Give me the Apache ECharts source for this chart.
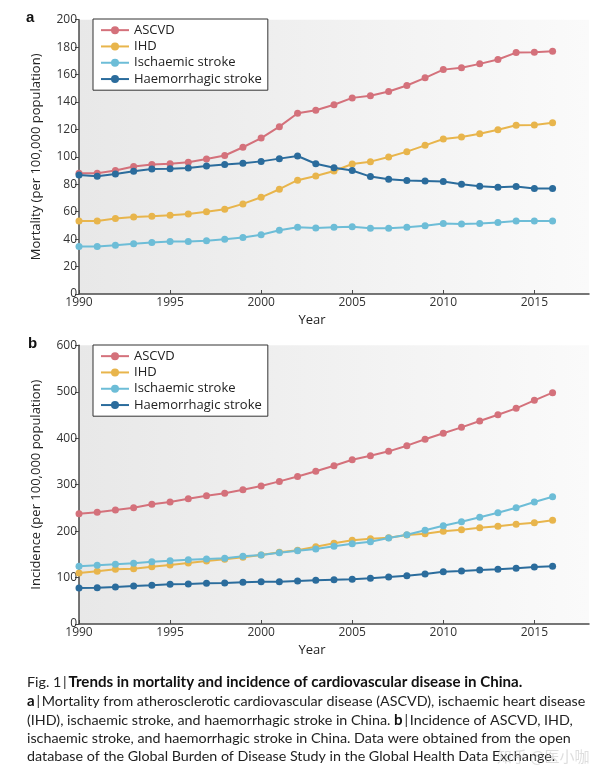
<!DOCTYPE html>
<html>
<head>
<meta charset="utf-8">
<script src="https://cdn.jsdelivr.net/npm/echarts@6/dist/echarts.min.js"></script>
<style>
html,body{margin:0;padding:0;background:#fff;}
#main{width:600px;height:783px;}
</style>
</head>
<body>
<div id="main"></div>
<script>
// ---------- data ----------
const years = [1990,1991,1992,1993,1994,1995,1996,1997,1998,1999,2000,2001,2002,2003,2004,2005,2006,2007,2008,2009,2010,2011,2012,2013,2014,2015,2016];
const seriesNames = ['ASCVD','IHD','Ischaemic stroke','Haemorrhagic stroke'];

// Panel a: mortality (per 100,000 population)
const mortASCVD = [88,88,90,93,94.5,95,96,98.4,101,107,113.7,122,131.8,134,138,143,144.5,147.6,152,157.6,163.6,165,167.8,171,176,176.2,177];
const mortIHD = [53.3,53.3,55,56.2,56.7,57.5,58.4,59.9,61.8,65.7,70.5,76.4,83,86,89.7,94.8,96.5,99.9,103.8,108.4,113,114.4,116.8,119.8,123,123.3,124.8];
const mortIschaemic = [34.7,34.7,35.6,36.6,37.6,38.3,38.3,38.8,40,41.2,43.2,46.5,48.7,48.2,48.7,49,48,48,48.7,49.7,51.4,51,51.4,52.1,53.3,53.3,53.3];
const mortHaemorrhagic = [86.8,85.8,87.5,89.5,91.1,91.4,91.9,93.3,94.5,95.3,96.7,98.7,100.6,95,92.1,90,85.6,83.6,82.7,82.4,82,80,78.5,77.8,78.3,77,77];

// Panel b: incidence (per 100,000 population)
const incASCVD = [237.5,240.4,245.4,250.4,257.6,262.6,269.8,276.3,281.3,289.2,297,307,317.5,328.7,340.8,353.7,362.4,371.7,383.9,397.6,410.5,423.4,437,450.6,464.3,481.5,498];
const incIHD = [109.8,113.4,117.7,119.1,123.4,127,131.3,135.6,139.2,143.6,148.5,154.3,158.6,166.5,173.7,180.2,183.7,185.8,191.6,194.4,199.6,203,207.4,210.3,214.6,218.1,223.2];
const incIschaemic = [124.2,126.4,128.5,130.7,134.1,136.3,138.4,139.9,141.4,145.7,148.5,153.5,157.8,161.5,167.3,172.9,177.2,185.1,192.3,201.7,211.6,220.2,229.7,239.6,250.4,262.6,274];
const incHaemorrhagic = [77.5,78.2,79.7,81.8,83.3,85.4,86.1,87.6,88.3,89.8,91.1,91.1,92.6,94,95.4,96.1,98.3,101.2,104,107.6,112.7,114.1,116.3,117.7,119.9,122.7,124.2];

// Tick labels
const xTickYears = [1990,1995,2000,2005,2010,2015];
const yTicksA = [0,20,40,60,80,100,120,140,160,180,200];
const yTicksB = [0,100,200,300,400,500,600];

const captionLines = [
  ['Fig. 1\u2009|\u2009', 'Trends in mortality and incidence of cardiovascular disease in China.'],
  ['a', '\u2009|\u2009Mortality from atherosclerotic cardiovascular disease (ASCVD), ischaemic heart disease'],
  ['(IHD), ischaemic stroke, and haemorrhagic stroke in China. ', 'b', '\u2009|\u2009Incidence of ASCVD, IHD,'],
  ['ischaemic stroke, and haemorrhagic stroke in China. Data were obtained from the open'],
  ['database of the Global Burden of Disease Study in the Global Health Data Exchange.']
];

// ---------- styling ----------
const colors = ['#d4717b', '#e8b54c', '#6dbdd7', '#2b6c9c'];
const FONT = 'Open Sans';
const CAPFONT = 'Lato';

function pairs(vals){ return years.map((y,i)=>[y, vals[i]]); }

const chart = echarts.init(document.getElementById('main'), null, {renderer:'canvas'});

const gridBg = new echarts.graphic.LinearGradient(0,0,1,0,[
  {offset:0, color:'#e8e8e8'},{offset:1, color:'#fafafa'}
]);

function xAxisCfg(gi){
  return {
    type:'value', gridIndex:gi, min:1990, max:2018, interval:5,
    name:'Year', nameLocation:'middle', nameGap:20,
    nameTextStyle:{fontFamily:FONT, fontSize:13, color:'#222', padding:[0,44,0,0]},
    axisLine:{lineStyle:{color:'#4a4a4a', width:1.5}},
    axisTick:{show:true, inside:true, length:4, customValues:xTickYears, lineStyle:{color:'#4a4a4a', width:1}},
    axisLabel:{customValues:xTickYears, formatter:(v)=>String(v), fontFamily:FONT, fontSize:12, color:'#333', margin:3},
    splitLine:{show:false}
  };
}
function yAxisCfg(gi, max, interval, name, ticks){
  return {
    type:'value', gridIndex:gi, min:0, max:max, interval:interval,
    name:name, nameLocation:'middle', nameGap:36,
    nameTextStyle:{fontFamily:FONT, fontSize:13, color:'#222'},
    axisLine:{show:true, lineStyle:{color:'#4a4a4a', width:1.5}},
    axisTick:{show:true, length:4, customValues:ticks, lineStyle:{color:'#4a4a4a', width:1}},
    axisLabel:{customValues:ticks, formatter:(v)=>String(v), fontFamily:FONT, fontSize:12, color:'#333', margin:2},
    splitLine:{show:false}
  };
}
function lineSeries(name, data, gi, ci){
  return {
    type:'line', name:name, xAxisIndex:gi, yAxisIndex:gi,
    data:pairs(data), symbol:'circle', symbolSize:7, showSymbol:true,
    lineStyle:{color:colors[ci], width:2},
    itemStyle:{color:colors[ci]},
    animation:false
  };
}
function legendCfg(top){
  return {
    data:seriesNames, orient:'vertical', left:93, top:top,
    backgroundColor:'#fff', borderColor:'#333', borderWidth:1,
    padding:[3,6,3,7], itemGap:0, itemWidth:28, itemHeight:10,
    textStyle:{fontFamily:FONT, fontSize:13, color:'#222', lineHeight:16.3},
    selectedMode:false
  };
}

const captionGraphics = captionLines.map((parts, li) => {
  const ys = [684, 703, 721.5, 740, 758.5];
  let rich = {
    r:{fontFamily:CAPFONT, fontSize:14.3, fontWeight:'normal', fill:'#222', color:'#222'},
    b:{fontFamily:CAPFONT, fontSize:15.1, fontWeight:'bold', fill:'#111', color:'#111'}
  };
  let txt = '';
  if (li===0) txt = '{r|'+parts[0]+'}{b|'+parts[1]+'}';
  else if (li===1) txt = '{b|'+parts[0]+'}{r|'+parts[1]+'}';
  else if (li===2) txt = '{r|'+parts[0]+'}{b|'+parts[1]+'}{r|'+parts[2]+'}';
  else txt = '{r|'+parts[0]+'}';
  return {type:'text', left:27, top:ys[li]-9, style:{text:txt, rich:rich, fontFamily:CAPFONT, fontSize:14.3}};
});

const option = {
  backgroundColor:'#fff',
  animation:false,
  grid:[
    {left:79, top:19.7, width:510, height:274.3, show:true, backgroundColor:gridBg, borderWidth:0, containLabel:false},
    {left:79, top:345.3, width:510, height:278.7, show:true, backgroundColor:gridBg, borderWidth:0, containLabel:false}
  ],
  xAxis:[xAxisCfg(0), xAxisCfg(1)],
  yAxis:[
    yAxisCfg(0, 200, 20, 'Mortality (per 100,000 population)', yTicksA),
    yAxisCfg(1, 600, 100, 'Incidence (per 100,000 population)', yTicksB)
  ],
  legend:[legendCfg(19), legendCfg(345)],
  series:[
    lineSeries(seriesNames[0], mortASCVD, 0, 0),
    lineSeries(seriesNames[1], mortIHD, 0, 1),
    lineSeries(seriesNames[2], mortIschaemic, 0, 2),
    lineSeries(seriesNames[3], mortHaemorrhagic, 0, 3),
    lineSeries(seriesNames[0], incASCVD, 1, 0),
    lineSeries(seriesNames[1], incIHD, 1, 1),
    lineSeries(seriesNames[2], incIschaemic, 1, 2),
    lineSeries(seriesNames[3], incHaemorrhagic, 1, 3)
  ],
  graphic:[
    {type:'text', left:26, top:10, style:{text:'a', fontFamily:'Liberation Sans', fontWeight:'bold', fontSize:15, fill:'#111'}},
    {type:'text', left:28, top:336, style:{text:'b', fontFamily:'Liberation Sans', fontWeight:'bold', fontSize:15, fill:'#111'}},
    ...captionGraphics,
    {type:'text', left:497, top:749, style:{text:'知乎 @医小咖', fontFamily:'Noto Sans CJK SC', fontSize:15, fill:'rgba(190,190,190,0.5)'}}
  ]
};
chart.setOption(option);
</script>
</body>
</html>
